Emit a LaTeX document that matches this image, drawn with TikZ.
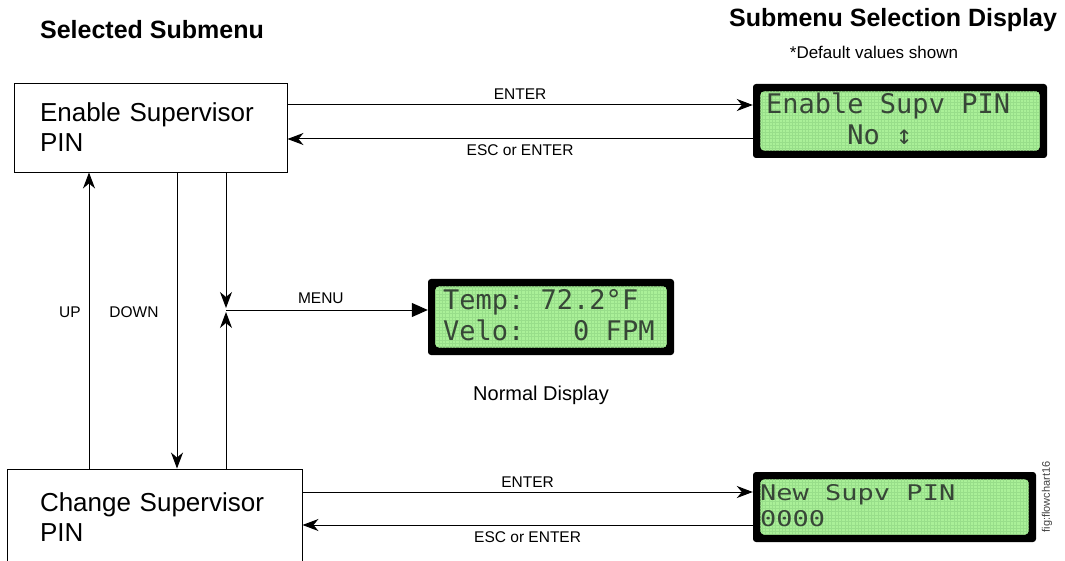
\documentclass[tikz,border=0pt]{standalone}
\usepackage{fontspec}
\setmainfont{Liberation Sans}
\newfontfamily\lcdfont{DejaVu Sans Mono}
\usetikzlibrary{arrows.meta}

\definecolor{lcdgreen}{RGB}{170,240,152}
\definecolor{lcdgrid}{RGB}{152,222,138}
\definecolor{lcdink}{RGB}{55,70,55}

\tikzset{
  menubox/.style={draw, line width=0.9pt, align=left, inner ysep=0pt,
    font=\fontsize{26}{30}\selectfont},
  keylabel/.style={font=\fontsize{15.5}{18}\selectfont},
  title/.style={font=\fontsize{25}{30}\selectfont\bfseries},
  lcd/.style={fill=black, rounded corners=3pt},
  lcdtext/.style={anchor=west, inner sep=0pt, text=lcdink,
    font=\lcdfont\fontsize{27}{30}\selectfont},
  link/.style={line width=1pt, -{Stealth[length=16pt,width=12pt,inset=5pt]}}
}

\begin{document}
\begin{tikzpicture}[x=1pt,y=-1pt]
\useasboundingbox (0,0) rectangle (1065,561);

% titles
\node[title] (tleft) at (152,30) {Selected Submenu};
\node[title] (tright) at (893,20) {Submenu Selection Display};
\node[font=\fontsize{17}{20}\selectfont] (note) at (874,52) {*Default values shown};

% submenu boxes
\node[menubox, inner xsep=26pt, text width=221pt, minimum height=89pt] (enable) at (150.5,127.5)
  {Enable Supervisor\\PIN};
\node[menubox, inner xsep=33pt, text width=229pt, minimum height=96pt] (change) at (154.5,517)
  {Change Supervisor\\PIN};

% displays
\node[lcd, minimum width=294pt, minimum height=74pt] (lcdA) at (900,121) {};
\node[lcd, minimum width=246pt, minimum height=76pt] (lcdB) at (551,317) {};
\node[lcd, minimum width=283pt, minimum height=70pt] (lcdC) at (894.5,507) {};
\foreach \d in {lcdA,lcdB,lcdC}{
  \begin{scope}
    \clip[rounded corners=4pt] ([xshift=7.5pt,yshift=-7.5pt]\d.north west)
      rectangle ([xshift=-7.5pt,yshift=7.5pt]\d.south east);
    \fill[lcdgreen] (\d.north west) rectangle (\d.south east);
    \draw[lcdgrid, line width=0.35pt, step=3.3pt] (\d.north west) grid (\d.south east);
  \end{scope}
}
\node[lcdtext] (a1) at (766,106) {Enable\ Supv\ PIN};
\node[lcdtext] (a2) at (766,135) {\ \ \ \ \ No\ ↕};
\node[lcdtext] (b1) at (443,302) {Temp:\ 72.2°F};
\node[lcdtext] (b2) at (443,330) {Velo:\ \ \ 0\ FPM};
\node[lcdtext] (c1) at (760,495) {\scalebox{1}[0.8]{New\ Supv\ PIN}};
\node[lcdtext] (c2) at (760,519) {\scalebox{1}[0.8]{0000}};
\node[font=\fontsize{20}{24}\selectfont] (normal) at (541,395) {Normal Display};

% enter / escape
\draw[link] (enable.east |- 0,105) -- (lcdA.west |- 0,105)
  node[keylabel, midway, above=2pt] {ENTER};
\draw[link] (lcdA.west |- 0,139) -- (enable.east |- 0,139)
  node[keylabel, midway, below=2pt] {ESC or ENTER};
\draw[link] (change.east |- 0,492) -- (lcdC.west |- 0,492)
  node[keylabel, midway, above=1pt] {ENTER};
\draw[link] (lcdC.west |- 0,525) -- (change.east |- 0,525)
  node[keylabel, midway, below=3pt] {ESC or ENTER};

% up / down
\draw[link] (change.north -| 89,0) -- (enable.south -| 89,0);
\draw[link] (enable.south -| 177,0) -- (change.north -| 177,0);
\node[keylabel] (up) at (70,312) {UP};
\node[keylabel] (down) at (134,312) {DOWN};

% menu
\coordinate (menu) at (226,310);
\draw[link] (enable.south -| menu) -- ([yshift=2pt]menu);
\draw[link] (change.north -| menu) -- ([yshift=-2pt]menu);
\draw[line width=1pt, -{Triangle[length=16pt,width=14pt]}] (menu) -- (lcdB.west |- menu)
  node[keylabel, pos=0.47, above=3pt] {MENU};

\node[rotate=90, font=\fontsize{11}{13}\selectfont, text=black!75] (figtag) at (1047,497) {fig:flowchart16};
\end{tikzpicture}
\end{document}
